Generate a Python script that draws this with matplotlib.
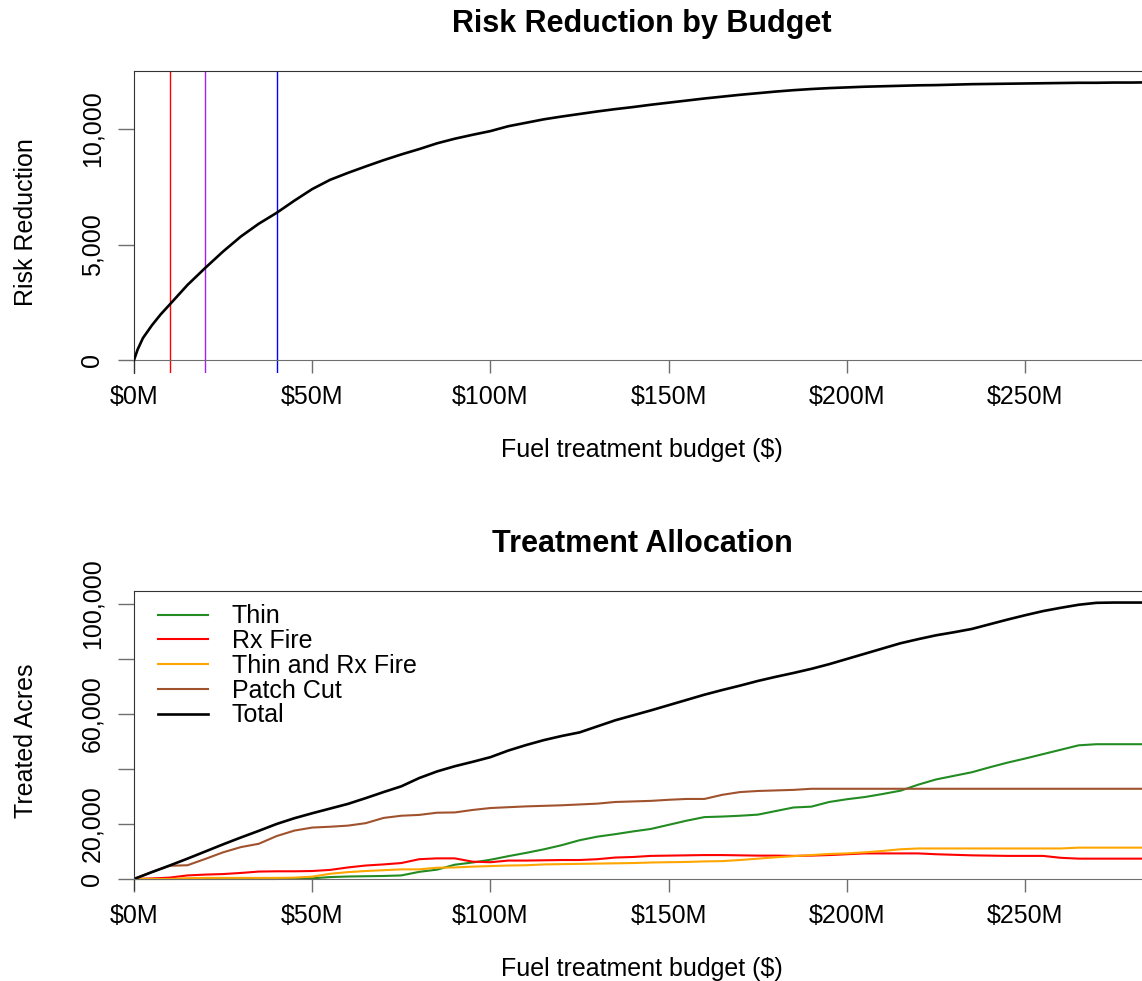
import matplotlib
matplotlib.use('Agg')
import matplotlib.pyplot as plt
from matplotlib.ticker import FuncFormatter

plt.rcParams['font.family'] = ['Liberation Sans', 'DejaVu Sans']

# Risk reduction curve (budget in $M)
risk_budget = [0, 1, 2.5, 5, 7.5, 10, 15, 20, 25, 30, 35, 40, 45, 50, 55, 60, 65, 70, 75, 80,
               85, 90, 95, 100, 105, 110, 115, 120, 125, 130, 135, 140, 145, 150, 155, 160,
               165, 170, 175, 180, 185, 190, 195, 200, 205, 210, 215, 220, 225, 230, 235,
               240, 245, 250, 255, 260, 265, 270, 275, 280, 285]
risk_reduction = [0, 450, 950, 1500, 1980, 2400, 3250, 3990, 4700, 5350, 5900, 6370, 6900, 7400,
                  7800, 8100, 8380, 8650, 8900, 9130, 9380, 9580, 9750, 9910, 10120, 10270,
                  10420, 10540, 10650, 10760, 10860, 10950, 11050, 11140, 11230, 11320, 11400,
                  11480, 11550, 11620, 11680, 11730, 11770, 11800, 11830, 11850, 11870, 11890,
                  11900, 11920, 11940, 11950, 11960, 11970, 11980, 11990, 12000, 12000, 12010,
                  12010, 12020]
marker_budgets = [10, 20, 40]
marker_colors = ['red', '#A020F0', 'blue']

# Treatment allocation (treated acres by budget, $M)
budget = list(range(0, 290, 5))
thin = [0, 0, 0, 0, 0, 0, 0, 0, 0, 100, 250, 700, 900, 1000, 1100, 1300, 2600, 3400, 5200, 6000,
        7000, 8300, 9500, 10800, 12300, 14100, 15400, 16300, 17300, 18200, 19700, 21200, 22500,
        22700, 23000, 23400, 24700, 26000, 26300, 28000, 29000, 29800, 30900, 32100, 34300,
        36200, 37500, 38800, 40600, 42300, 43800, 45400, 47000, 48600, 49000, 49000, 49000, 49000]
rx_fire = [0, 200, 500, 1300, 1600, 1800, 2200, 2700, 2800, 2800, 2900, 3300, 4200, 4900, 5300,
           5800, 7200, 7500, 7500, 6300, 6100, 6700, 6700, 6800, 6900, 6900, 7200, 7800, 8000,
           8400, 8500, 8600, 8700, 8700, 8600, 8500, 8500, 8400, 8500, 8700, 9000, 9300, 9300,
           9300, 9300, 9000, 8800, 8600, 8500, 8400, 8400, 8400, 7700, 7400, 7400, 7400, 7400, 7400]
thin_rx = [0, 0, 0, 300, 400, 400, 400, 400, 400, 500, 850, 1900, 2500, 2900, 3200, 3500, 3500,
           4100, 4200, 4500, 4700, 4900, 5000, 5300, 5400, 5500, 5600, 5700, 5800, 6000, 6100,
           6200, 6400, 6500, 6900, 7400, 7900, 8300, 8700, 9100, 9300, 9700, 10200, 10800, 11100,
           11100, 11100, 11100, 11100, 11100, 11100, 11100, 11100, 11400, 11400, 11400, 11400, 11400]
patch_cut = [0, 2500, 4800, 5000, 7300, 9700, 11600, 12800, 15600, 17600, 18700, 19000, 19400,
             20300, 22200, 23000, 23300, 24100, 24200, 25100, 25800, 26100, 26400, 26600, 26800,
             27100, 27400, 28000, 28200, 28400, 28800, 29100, 29100, 30600, 31600, 32000, 32200,
             32400, 32800, 32800, 32800, 32800, 32800, 32800, 32800, 32800, 32800, 32800, 32800,
             32800, 32800, 32800, 32800, 32800, 32800, 32800, 32800, 32800]
total = [0, 2500, 4900, 7400, 10000, 12600, 15100, 17500, 20000, 22100, 23900, 25600, 27300,
         29400, 31600, 33700, 36700, 39100, 41000, 42600, 44300, 46700, 48700, 50500, 52000,
         53300, 55500, 57700, 59500, 61300, 63200, 65100, 67000, 68700, 70300, 72000, 73500,
         74900, 76400, 78100, 80000, 81900, 83800, 85700, 87200, 88600, 89700, 90900, 92600,
         94300, 95900, 97400, 98600, 99700, 100400, 100500, 100500, 100500]

series = [('Thin', thin, '#228B22'),
          ('Rx Fire', rx_fire, '#FF0000'),
          ('Thin and Rx Fire', thin_rx, '#FFA500'),
          ('Patch Cut', patch_cut, '#A0522D'),
          ('Total', total, 'black')]

x_ticks = [0, 50, 100, 150, 200, 250]
FS = 18

W, H = 1142, 981
fig = plt.figure(figsize=(W / 100, H / 100), dpi=100)


def px_axes(left, top, right, bottom):
    return fig.add_axes([left / W, 1 - bottom / H, (right - left) / W, (bottom - top) / H])


def style_axes(ax):
    ax.spines['bottom'].set_position(('data', 0))
    ax.spines['bottom'].set_color('#6e6e6e')
    ax.spines['left'].set_color('#333333')
    ax.spines['top'].set_color('#333333')
    ax.spines['right'].set_color('#333333')
    ax.set_xlim(0, 285)
    ax.set_xticks(x_ticks)
    ax.xaxis.set_major_formatter(FuncFormatter(lambda v, p: f"${v:.0f}M"))
    ax.tick_params(axis='x', length=9.4, width=1, color='#6e6e6e', pad=8.5, labelsize=FS)
    ax.tick_params(axis='y', length=11.5, width=1, color='#6e6e6e', pad=10, labelsize=FS,
                   labelrotation=90)
    for t in ax.get_yticklabels():
        t.set_va('center')
    ax.set_xlabel('Fuel treatment budget ($)', fontsize=FS)


# Top panel
ax1 = px_axes(134, 71, 1150, 373)
ax1.plot(risk_budget, risk_reduction, color='black', lw=1.9, zorder=3)
for b, c in zip(marker_budgets, marker_colors):
    ax1.axvline(b, color=c, lw=1.0, zorder=2)
ax1.set_ylim(-560, 12510)
ax1.set_yticks([0, 5000, 10000])
ax1.yaxis.set_major_formatter(FuncFormatter(lambda v, p: f"{v:,.0f}"))
style_axes(ax1)
ax1.set_ylabel('Risk Reduction', fontsize=FS)
ax1.xaxis.set_label_coords(0.5, -0.215)
ax1.yaxis.set_label_coords(-0.094, 0.5)
ax1.set_title('Risk Reduction by Budget', fontsize=22, fontweight='bold', pad=28)

# Bottom panel
ax2 = px_axes(134, 591, 1150, 890)
for name, vals, col in series:
    lw = 1.9 if name == 'Total' else 1.5
    ax2.plot(budget, vals, color=col, lw=lw, label=name)
ax2.set_ylim(-4000, 104700)
ax2.set_yticks([0, 20000, 40000, 60000, 80000, 100000])
ax2.set_yticklabels(['0', '20,000', '', '60,000', '', '100,000'])
style_axes(ax2)
ax2.set_ylabel('Treated Acres', fontsize=FS)
ax2.xaxis.set_label_coords(0.5, -0.224)
ax2.yaxis.set_label_coords(-0.094, 0.5)
ax2.set_title('Treatment Allocation', fontsize=22, fontweight='bold', pad=28)
ax2.legend(loc='upper left', bbox_to_anchor=(0.0236, 0.955), frameon=False, fontsize=FS,
           handlelength=2.0, handletextpad=0.95, labelspacing=0.03, borderaxespad=0, borderpad=0)

fig.savefig('out.png', dpi=100)
